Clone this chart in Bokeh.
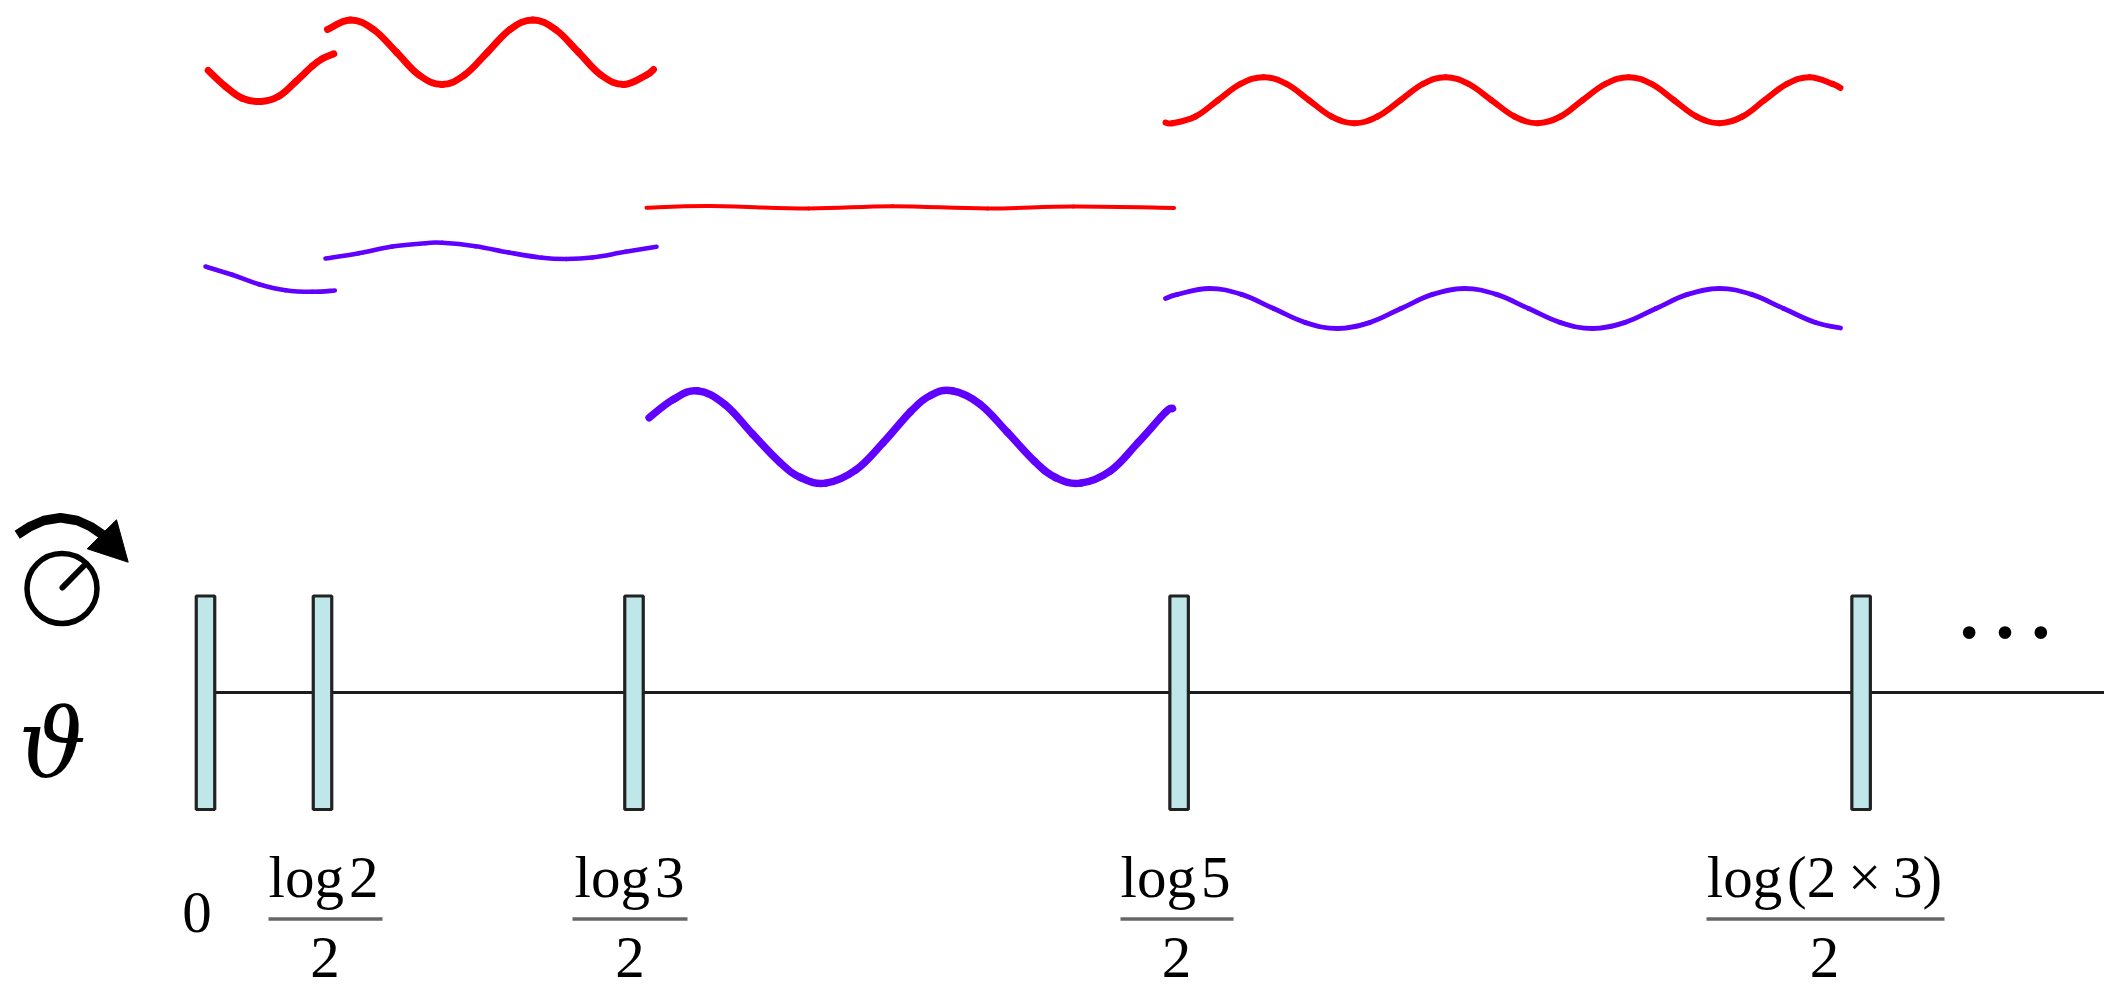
from bokeh.core.properties import value
from bokeh.embed import file_html
from bokeh.plotting import figure
from bokeh.resources import INLINE

RED = "#ff0000"
VIOLET = "#6000ff"

# top row, red waves
red_a_x = [207.7, 225, 241.7, 260, 278.3, 295, 311.7, 321.7, 333.3]
red_a_y = [70, 86, 97.7, 101, 95.7, 81.3, 65.7, 58.3, 53.3]

red_b_x = [327, 350, 373, 396, 418.5, 441.5, 464, 487, 509.5, 532.3, 555, 578, 600.5, 623.3, 646, 653]
red_b_y = [29, 19.5, 29, 51.7, 74.5, 84, 74.5, 51.7, 29, 19.5, 29, 51.7, 74.5, 84, 74.5, 69]

red_flat_x = [646, 710, 808, 892, 987, 1073, 1173.6]
red_flat_y = [207.3, 205.5, 208, 205.7, 208, 206, 207.5]

red_c_x = [1165, 1172, 1195, 1217.5, 1240, 1263, 1286, 1308.5, 1331, 1354, 1377, 1400, 1422.5, 1445, 1468, 1491,
           1514, 1537, 1560, 1582, 1605, 1628, 1651, 1673.5, 1696, 1719, 1742, 1764, 1786.5, 1809, 1832, 1840]
red_c_y = [122, 122.7, 116, 99.7, 83.4, 76.7, 83.4, 99.7, 116, 122.7, 116, 99.7, 83.4, 76.7, 83.4, 99.7,
           116, 122.7, 116, 99.7, 83.4, 76.7, 83.4, 99.7, 116, 122.7, 116, 99.7, 83.4, 76.7, 83.4, 87.5]

# violet waves
violet_a_x = [205, 231.7, 258.3, 285, 311.7, 334.3]
violet_a_y = [266, 274.3, 283.7, 289.7, 291.3, 290]

violet_b_x = [325, 358.3, 391.7, 425, 441.7, 475, 508.3, 541.7, 566, 591.7, 625, 656]
violet_b_y = [258, 252.7, 246, 242.7, 242.3, 245.7, 252, 257.3, 258.5, 257, 251.3, 246.3]

violet_c_x = [1165, 1177, 1209, 1241, 1273, 1305, 1337, 1369, 1400.5, 1432, 1464, 1496, 1528, 1560, 1592,
              1624, 1655.5, 1687, 1719, 1751, 1783, 1815, 1840]
violet_c_y = [298, 293.9, 288, 293.9, 308, 322.1, 328, 322.1, 308, 293.9, 288, 293.9, 308, 322.1, 328,
              322.1, 308, 293.9, 288, 293.9, 308, 322.1, 327.5]

violet_d_x = [648.6, 672.7, 696.8, 724.4, 751.9, 779.5, 800, 825.3, 855.2, 882.8, 910.3, 930, 951.6, 979.2,
              1006.8, 1034.3, 1055, 1080.1, 1110.1, 1137.6, 1165.1, 1172]
violet_d_y = [417.2, 399, 390.3, 404, 433.4, 462, 477, 482.6, 469.5, 442, 411, 395, 390.3, 403.4,
              431.7, 461, 477, 482.6, 470.2, 442, 411.7, 408]

# the theta axis
bar_x = [205, 322, 633.5, 1178.6, 1860.6]
labels_top = ["log\u200a2", "log\u200a3", "log\u200a5", "log\u200a(2\u2009×\u20093)"]
label_x = [323, 629, 1175, 1824]
label_bottom = ["2", "2", "2", "2"]
frac_left = [268, 572, 1120, 1706]
frac_right = [382, 687, 1233, 1944]

# little dial and arrow on the left
arc_x = [16.7, 28.3, 43.3, 60, 76.7, 90, 103.3]
arc_y = [534.3, 526.7, 520, 517.3, 520, 526, 535]
head_x = [116, 127.7, 86.7]
head_y = [519.3, 561.7, 548.3]

p = figure(width=2104, height=990, x_range=(0, 2104), y_range=(990, 0),
           output_backend="svg", toolbar_location=None, min_border=0)
p.axis.visible = False
p.grid.visible = False
p.outline_line_color = None
p.background_fill_color = "white"


# draw a wave through its points as a chain of bezier pieces, so it does not look faceted
def wave(xs, ys, color, width):
    n = len(xs)
    x0, y0, x1, y1, cx0, cy0, cx1, cy1 = [], [], [], [], [], [], [], []
    for i in range(n - 1):
        a, d = max(i - 1, 0), min(i + 2, n - 1)
        x0.append(xs[i])
        y0.append(ys[i])
        x1.append(xs[i + 1])
        y1.append(ys[i + 1])
        cx0.append(xs[i] + (xs[i + 1] - xs[a]) / 5.2)
        cy0.append(ys[i] + (ys[i + 1] - ys[a]) / 5.2)
        cx1.append(xs[i + 1] - (xs[d] - xs[i]) / 5.2)
        cy1.append(ys[i + 1] - (ys[d] - ys[i]) / 5.2)
    p.bezier(x0=x0, y0=y0, x1=x1, y1=y1, cx0=cx0, cy0=cy0, cx1=cx1, cy1=cy1,
             line_color=color, line_width=width, line_cap="round")


wave(red_a_x, red_a_y, RED, 7)
wave(red_b_x, red_b_y, RED, 7)
wave(red_flat_x, red_flat_y, RED, 4)
wave(red_c_x, red_c_y, RED, 6)
wave(violet_a_x, violet_a_y, VIOLET, 4.6)
wave(violet_b_x, violet_b_y, VIOLET, 4.6)
wave(violet_c_x, violet_c_y, VIOLET, 4.8)
wave(violet_d_x, violet_d_y, VIOLET, 7.5)

# axis line, then the bars on top of it
p.line([205, 2104], [692, 692], line_color="#1c1c1c", line_width=3)
p.vbar(x=bar_x, width=18.5, top=595.5, bottom=809, fill_color="#bfe6e8",
       line_color="#222222", line_width=3.2)

# numerators, fraction bars, denominators
serif = value("Liberation Serif")
p.text(x=label_x, y=[897] * 4, text=labels_top, text_font=serif, text_font_size="59px",
       text_align="center", text_baseline="alphabetic", text_color="black", y_offset=-21)
p.segment(x0=frac_left, x1=frac_right, y0=[918.5] * 4, y1=[918.5] * 4, line_color="#666666", line_width=3.4)
p.text(x=[324.5, 629.5, 1176, 1824], y=[978] * 4, text=label_bottom, text_font=serif,
       text_font_size="59px", text_align="center", text_baseline="alphabetic", text_color="black", y_offset=-21)
p.text(x=[196.5], y=[933], text=["0"], text_font=serif, text_font_size="59px",
       text_align="center", text_baseline="alphabetic", text_color="black", y_offset=-21)

p.text(x=[2004.6], y=[640], text=["…"], text_font=serif, text_font_size="107px",
       text_align="center", text_baseline="alphabetic", text_color="black", y_offset=-40)
p.text(x=[52], y=[777], text=["ϑ"], text_font=value("DejaVu Serif"), text_font_style="italic",
       text_font_size="95px", text_align="center", text_baseline="alphabetic", text_color="black", y_offset=-34)

# dial with its hand, and the arrow above it
p.circle(x=[61.5], y=[588], radius=35, fill_color=None, line_color="black", line_width=5.5)
p.line([62, 82.7], [587, 566], line_color="black", line_width=6, line_cap="round")
p.line(arc_x, arc_y, line_color="black", line_width=9.5, line_join="round")
p.patch(head_x, head_y, fill_color="black", line_color="black", line_width=1)

open("out.html", "w").write(file_html(p, INLINE))
